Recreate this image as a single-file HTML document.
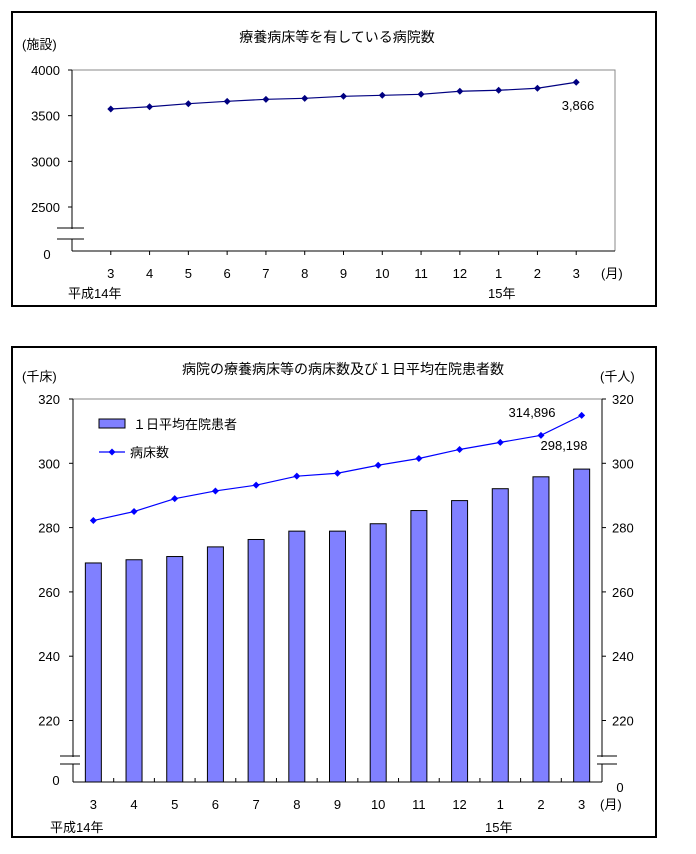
<!DOCTYPE html>
<html><head><meta charset="utf-8">
<style>
html,body{margin:0;padding:0;background:#fff;}
svg{display:block;font-family:"Liberation Sans","Noto Sans CJK JP",sans-serif;}
</style></head>
<body>
<svg id="svg" width="696" height="854" viewBox="0 0 696 854">
  <rect x="12" y="12" width="644" height="294" fill="#fff" stroke="#000" stroke-width="2"/>
  <rect x="12" y="347" width="644" height="490" fill="#fff" stroke="#000" stroke-width="2"/>
  <g id="top"></g>
  <g id="bot"></g>
</svg>
<script>
const months = ["3","4","5","6","7","8","9","10","11","12","1","2","3"];
const hospitalCounts = [3573,3598,3631,3657,3679,3690,3712,3723,3734,3767,3778,3800,3866];
const topTicks = [2500,3000,3500,4000];
const patients = [269,270,271,274,276.3,278.9,278.9,281.2,285.3,288.4,292.1,295.8,298.2];
const beds = [282.2,285.0,289.0,291.4,293.2,296.0,296.9,299.4,301.5,304.3,306.5,308.7,314.9];
const botTicks = [220,240,260,280,300,320];

const NS="http://www.w3.org/2000/svg";
function mk(parent,tag,attrs,text){const e=document.createElementNS(NS,tag);for(const k in attrs)e.setAttribute(k,attrs[k]);if(text!==undefined)e.textContent=text;parent.appendChild(e);return e;}
function diamond(cx,cy,r){return `${cx},${cy-r} ${cx+r},${cy} ${cx},${cy+r} ${cx-r},${cy}`;}

// ---------- TOP CHART ----------
const T=document.getElementById('top');
const tL=72,tR=615,tT=70,tB=251;
const ty=v=>70+(4000-v)*(207-70)/1500;
const tx=i=>tL+(i+1)*(tR-tL)/14;
let e;
e=mk(T,'text',{x:337,y:42,'text-anchor':'middle','font-size':14},'療養病床等を有している病院数');

e=mk(T,'text',{x:22,y:49,'font-size':13},'(施設)');

mk(T,'polyline',{points:`${tL},${tT} ${tR},${tT} ${tR},${tB}`,fill:'none',stroke:'#888','stroke-width':1});
e=mk(T,'line',{x1:tL,y1:tT,x2:tL,y2:tB,stroke:'#000'});

e=mk(T,'line',{x1:tL,y1:tB,x2:tR,y2:tB,stroke:'#000'});

mk(T,'rect',{x:55,y:229,width:30,height:10,fill:'#fff'});
mk(T,'line',{x1:57,y1:228,x2:84,y2:228,stroke:'#000'});
mk(T,'line',{x1:57,y1:239,x2:84,y2:239,stroke:'#000'});
topTicks.forEach(v=>{
  mk(T,'line',{x1:tL-4,y1:ty(v),x2:tL,y2:ty(v),stroke:'#000'});
  e=mk(T,'text',{x:60,y:ty(v)+5,'text-anchor':'end','font-size':13},String(v));
  
});
e=mk(T,'text',{x:47,y:259,'text-anchor':'middle','font-size':13},'0');

months.forEach((m,i)=>{
  mk(T,'line',{x1:tx(i),y1:tB,x2:tx(i),y2:tB+4,stroke:'#000'});
  e=mk(T,'text',{x:tx(i),y:278,'text-anchor':'middle','font-size':13},m);
  
});
e=mk(T,'text',{x:601,y:278,'font-size':13},'(月)');

e=mk(T,'text',{x:68,y:298,'font-size':13},'平成14年');

e=mk(T,'text',{x:488,y:298,'font-size':13},'15年');

e=mk(T,'polyline',{points:hospitalCounts.map((v,i)=>tx(i)+','+ty(v)).join(' '),fill:'none',stroke:'#000080','stroke-width':1.2});

hospitalCounts.forEach((v,i)=>{
  e=mk(T,'polygon',{points:diamond(tx(i),ty(v),3.5),fill:'#000080'});
  
});
e=mk(T,'text',{x:578,y:110,'text-anchor':'middle','font-size':13},'3,866');


// ---------- BOTTOM CHART ----------
const B=document.getElementById('bot');
const bL=73,bR=602,bT=399,bB=782;
const by=v=>399+(320-v)*64.3/20;
const bx=i=>bL+(i+0.5)*(bR-bL)/13;
e=mk(B,'text',{x:343,y:374,'text-anchor':'middle','font-size':14},'病院の療養病床等の病床数及び１日平均在院患者数');

e=mk(B,'text',{x:22,y:381,'font-size':13},'(千床)');

e=mk(B,'text',{x:600,y:381,'font-size':13},'(千人)');

mk(B,'line',{x1:bL,y1:bT,x2:bR,y2:bT,stroke:'#888'});
e=mk(B,'line',{x1:bL,y1:bT,x2:bL,y2:bB,stroke:'#000'});

e=mk(B,'line',{x1:bR,y1:bT,x2:bR,y2:bB,stroke:'#000'});

botTicks.forEach(v=>{
  mk(B,'line',{x1:bL-4,y1:by(v),x2:bL,y2:by(v),stroke:'#000'});
  mk(B,'line',{x1:bR,y1:by(v),x2:bR+4,y2:by(v),stroke:'#000'});
  e=mk(B,'text',{x:60,y:by(v)+5,'text-anchor':'end','font-size':13},String(v));
  
  e=mk(B,'text',{x:612,y:by(v)+5,'font-size':13},String(v));
  
});
patients.forEach((v,i)=>{
  e=mk(B,'rect',{x:bx(i)-8,y:by(v),width:16,height:bB-by(v),fill:'#8080ff',stroke:'#000','stroke-width':1});
  
});
for(let k=1;k<13;k++){const x=bL+k*(bR-bL)/13;mk(B,'line',{x1:x,y1:bB-4,x2:x,y2:bB,stroke:'#000'});}
e=mk(B,'line',{x1:bL,y1:bB,x2:bR,y2:bB,stroke:'#000'});

mk(B,'rect',{x:58,y:757,width:24,height:7,fill:'#fff'});
mk(B,'line',{x1:60,y1:756,x2:80,y2:756,stroke:'#000'});
mk(B,'line',{x1:60,y1:764,x2:80,y2:764,stroke:'#000'});
mk(B,'rect',{x:595,y:757,width:24,height:7,fill:'#fff'});
mk(B,'line',{x1:597,y1:756,x2:617,y2:756,stroke:'#000'});
mk(B,'line',{x1:597,y1:764,x2:617,y2:764,stroke:'#000'});
e=mk(B,'text',{x:56,y:785,'text-anchor':'middle','font-size':13},'0');

e=mk(B,'text',{x:620,y:792,'text-anchor':'middle','font-size':13},'0');

months.forEach((m,i)=>{
  e=mk(B,'text',{x:bx(i),y:809,'text-anchor':'middle','font-size':13},m);
  
});
e=mk(B,'text',{x:600,y:809,'font-size':13},'(月)');

e=mk(B,'text',{x:50,y:832,'font-size':13},'平成14年');

e=mk(B,'text',{x:485,y:832,'font-size':13},'15年');

e=mk(B,'polyline',{points:beds.map((v,i)=>bx(i)+','+by(v)).join(' '),fill:'none',stroke:'#0000ff','stroke-width':1.2});

beds.forEach((v,i)=>{
  e=mk(B,'polygon',{points:diamond(bx(i),by(v),3.5),fill:'#0000ff'});
  
});
e=mk(B,'text',{x:532,y:417,'text-anchor':'middle','font-size':13},'314,896');

e=mk(B,'text',{x:564,y:450,'text-anchor':'middle','font-size':13},'298,198');

// legend
e=mk(B,'rect',{x:99,y:419,width:26,height:9,fill:'#8080ff',stroke:'#000'});

e=mk(B,'text',{x:133,y:429,'font-size':13},'１日平均在院患者');

e=mk(B,'line',{x1:99,y1:452,x2:125,y2:452,stroke:'#0000ff','stroke-width':1.2});

mk(B,'polygon',{points:diamond(112,452,3.5),fill:'#0000ff'});
e=mk(B,'text',{x:130,y:457,'font-size':13},'病床数');

</script>
</body></html>
